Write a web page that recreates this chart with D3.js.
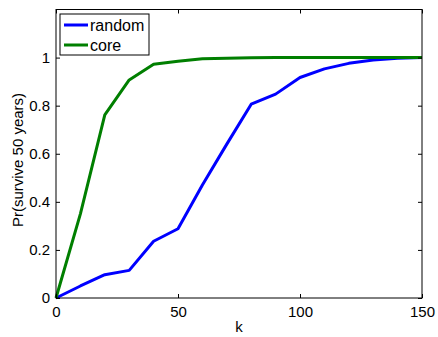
<!DOCTYPE html>
<html>
<head>
<meta charset="utf-8">
<script src="https://cdn.jsdelivr.net/npm/d3@7"></script>
<style>
  body { margin: 0; background: #fff; }
  svg { font-family: "Liberation Sans", Arial, sans-serif; }
</style>
</head>
<body>
<svg id="chart" width="438" height="337"></svg>
<script>
// data
const kValues = [0, 10, 20, 30, 40, 50, 60, 70, 80, 90, 100, 110, 120, 130, 140, 150];
const randomSeries = [0, 0.05, 0.097, 0.115, 0.236, 0.288, 0.47, 0.64, 0.806, 0.848, 0.917, 0.953, 0.976, 0.99, 0.997, 1.0];
const coreSeries = [0, 0.35, 0.762, 0.907, 0.972, 0.985, 0.995, 0.997, 0.999, 1.0, 1.0, 1.0, 1.0, 1.0, 1.0, 1.0];
const xTicks = [0, 50, 100, 150];
const yTicks = [0, 0.2, 0.4, 0.6, 0.8, 1];
const seriesNames = ["random", "core"];

const margin = {top: 9.5, right: 16, bottom: 39, left: 56};
const width = 438, height = 337;

const svg = d3.select("#chart");

const x = d3.scaleLinear().domain([0, 150]).range([margin.left, width - margin.right]);
const y = d3.scaleLinear().domain([0, 1.2]).range([height - margin.bottom, margin.top]);

const colors = {random: "#0000ff", core: "#007f00"};
const series = [
  {name: seriesNames[0], values: randomSeries},
  {name: seriesNames[1], values: coreSeries}
];

const line = d3.line()
  .x((d, i) => x(kValues[i]))
  .y(d => y(d));

// random first, core drawn on top
svg.append("g")
  .selectAll("path")
  .data(series)
  .join("path")
  .attr("fill", "none")
  .attr("stroke", d => colors[d.name])
  .attr("stroke-width", 3)
  .attr("stroke-linejoin", "round")
  .attr("d", d => line(d.values));

// axes with inward ticks, box on all four sides
const tickLen = 4;
const axisStyle = g => {
  g.select(".domain").remove();
  g.selectAll("line").attr("stroke", "#000");
  g.selectAll("text").attr("font-size", 15).attr("fill", "#000");
};

svg.append("g")
  .attr("transform", `translate(0,${height - margin.bottom})`)
  .call(d3.axisBottom(x).tickValues(xTicks).tickSize(-tickLen).tickPadding(8).tickFormat(d3.format("d")))
  .call(axisStyle);

svg.append("g")
  .attr("transform", `translate(0,${margin.top})`)
  .call(d3.axisTop(x).tickValues(xTicks).tickSize(-tickLen).tickFormat(""))
  .call(axisStyle);

svg.append("g")
  .attr("transform", `translate(${margin.left},0)`)
  .call(d3.axisLeft(y).tickValues(yTicks).tickSize(-tickLen).tickPadding(6).tickFormat(d => d === 0 || d === 1 ? d3.format("d")(d) : d3.format(".1f")(d)))
  .call(axisStyle);

svg.append("g")
  .attr("transform", `translate(${width - margin.right},0)`)
  .call(d3.axisRight(y).tickValues(yTicks).tickSize(-tickLen).tickFormat(""))
  .call(axisStyle);

svg.append("rect")
  .attr("x", margin.left)
  .attr("y", margin.top)
  .attr("width", width - margin.left - margin.right)
  .attr("height", height - margin.top - margin.bottom)
  .attr("fill", "none")
  .attr("stroke", "#000")
  .attr("stroke-width", 1);

// axis labels
svg.append("text")
  .attr("x", (margin.left + width - margin.right) / 2)
  .attr("y", 332)
  .attr("text-anchor", "middle")
  .attr("font-size", 15)
  .text("k");

svg.append("text")
  .attr("transform", `translate(23,160) rotate(-90)`)
  .attr("text-anchor", "middle")
  .attr("font-size", 15)
  .text("Pr(survive 50 years)");

// legend
const legend = svg.append("g").attr("transform", "translate(60,14)");
legend.append("rect")
  .attr("width", 89)
  .attr("height", 41)
  .attr("fill", "#fff")
  .attr("stroke", "#000");

const rows = legend.selectAll("g.row")
  .data(series)
  .join("g")
  .attr("class", "row")
  .attr("transform", (d, i) => `translate(0,${11 + i * 20})`);

rows.append("line")
  .attr("x1", 4).attr("x2", 28)
  .attr("stroke", d => colors[d.name])
  .attr("stroke-width", 3);

rows.append("text")
  .attr("x", 30)
  .attr("dy", "0.35em")
  .attr("font-size", 16)
  .text(d => d.name);
</script>
</body>
</html>
